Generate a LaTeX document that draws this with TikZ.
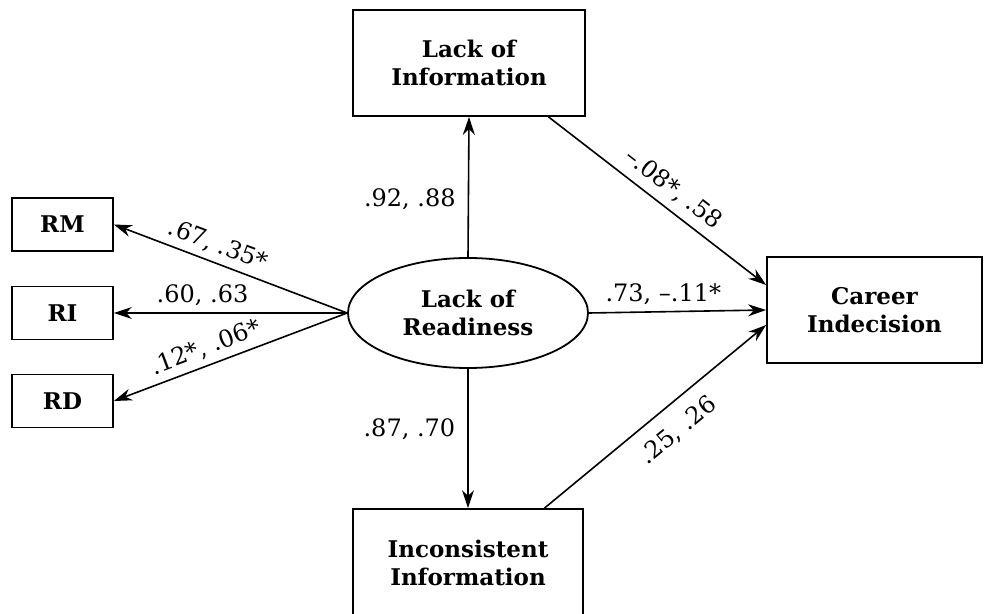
\documentclass[tikz,border=0pt]{standalone}
\usepackage{fontspec}
\setmainfont{DejaVu Serif}
\usetikzlibrary{calc}
\usetikzlibrary{positioning}
\usetikzlibrary{shapes.geometric}
\usetikzlibrary{arrows.meta}

\begin{document}
\begin{tikzpicture}[x=0.5pt,y=-0.5pt,
  box/.style={draw,line width=0.9pt,rectangle,align=center,inner sep=0pt,font=\fontsize{11.5}{14}\selectfont\bfseries},
  smallbox/.style={box,minimum width=50.5pt,minimum height=26.5pt},
  latent/.style={draw,line width=0.9pt,ellipse,align=center,inner sep=0pt,minimum width=120pt,minimum height=55pt,font=\fontsize{11.5}{14}\selectfont\bfseries},
  path/.style={-{Stealth[length=9pt,width=6pt]},line width=0.8pt},
  coef/.style={font=\fontsize{12}{14}\selectfont,inner sep=2pt}]

\useasboundingbox (0,0) rectangle (985,614);

\node[box,minimum width=116pt,minimum height=53pt] (loi) at (469,63) {Lack of\\Information};
\node[latent] (lor) at (468,313) {Lack of\\Readiness};
\node[box,minimum width=107.5pt,minimum height=53pt] (ci) at (874.5,310) {Career\\Indecision};
\node[box,minimum width=115pt,minimum height=54pt] (ii) at (468,563) {Inconsistent\\Information};

\node[smallbox] (rm) at (62.5,224.5) {RM};
\node[smallbox] (ri) at (62.5,313) {RI};
\node[smallbox] (rd) at (62.5,401) {RD};

\draw[path] (lor.north) -- node[coef,pos=0.41,left=4pt] {.92, .88} (loi.south);
\draw[path] (lor.south) -- node[coef,pos=0.43,left=4pt] {.87, .70} (ii.north);
\draw[path] (lor.east) -- node[coef,pos=0.42,above=1pt] {.73, --.11*} (ci.west);
\draw[path] ($(loi.south west)!0.84!(loi.south east)$) -- node[coef,sloped,pos=0.52,above=2pt] {--.08*, .58} ([yshift=12.5pt]ci.west);
\draw[path] ($(ii.north west)!0.83!(ii.north east)$) -- node[coef,sloped,pos=0.53,below=5pt] {.25, .26} ([yshift=-7.5pt]ci.west);

\draw[path] (lor.west) -- node[coef,sloped,pos=0.58,above=1pt] {.67, .35*} (rm.east);
\draw[path] (lor.west) -- node[coef,pos=0.62,above=1pt] {.60, .63} (ri.east);
\draw[path] (lor.west) -- node[coef,sloped,pos=0.58,above=1pt] {.12*, .06*} (rd.east);
\end{tikzpicture}
\end{document}
